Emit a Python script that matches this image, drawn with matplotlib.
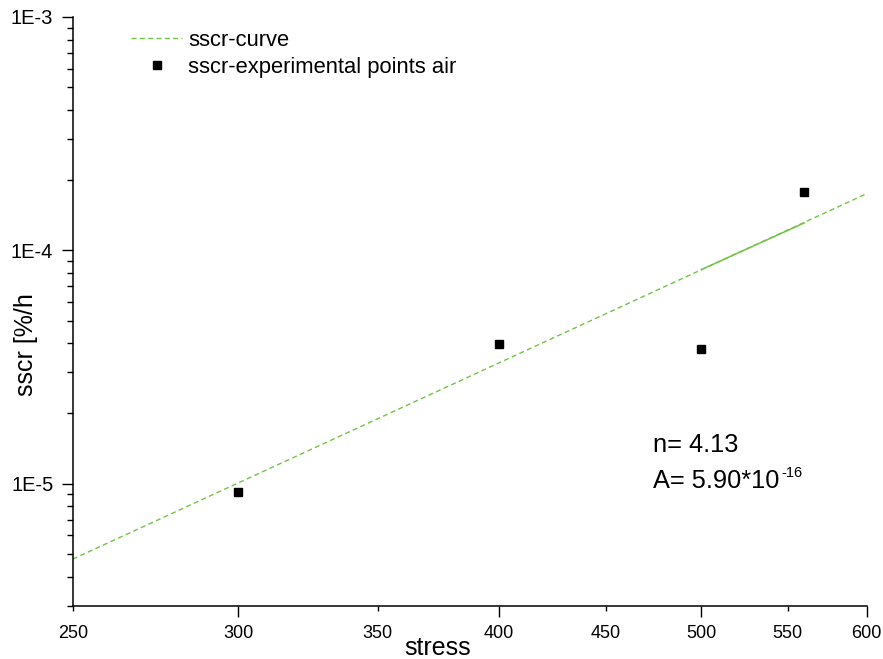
import math
import matplotlib
matplotlib.use('Agg')
import matplotlib.pyplot as plt
from matplotlib.ticker import FuncFormatter, FormatStrFormatter, LogLocator

plt.rcParams['font.family'] = ['Liberation Sans', 'DejaVu Sans']

# experimental points (stress, sscr)
stress = [300, 400, 500, 560]
sscr = [9.2e-6, 3.98e-5, 3.77e-5, 1.78e-4]

# fitted power-law curve, read at its ends
curve_x = [250, 600]
curve_y = [4.75e-6, 1.75e-4]
# solid piece of the curve between 500 and 560
fit_x = [500, 560]
fit_y = [8.27e-5, 1.31e-4]

x_major = [300, 400, 500, 600]
x_minor = [250, 350, 450, 550]

W, H = 883, 659
fig = plt.figure(figsize=(W / 100, H / 100), dpi=100)
ax = fig.add_axes([72.7 / W, 1 - 605.7 / H, 794 / W, 588.7 / H])

green = '#72c447'
ax.plot(curve_x, curve_y, color=green, lw=1.0, dashes=(3.6, 2.4), label='sscr-curve')
ax.plot(fit_x, fit_y, color=green, lw=1.1)
ax.plot(stress, sscr, ls='none', marker='s', ms=5.3, color='black',
        label='sscr-experimental points air')

ax.set_xscale('log')
ax.set_yscale('log')
ax.set_xlim(250, 600)
ax.set_ylim(3e-6, 1e-3)

ax.set_xticks(x_major)
ax.set_xticks(x_minor, minor=True)
ax.xaxis.set_major_formatter(FormatStrFormatter('%d'))
ax.xaxis.set_minor_formatter(FormatStrFormatter('%d'))

ax.yaxis.set_major_locator(LogLocator(base=10))
ax.yaxis.set_minor_locator(LogLocator(base=10, subs=range(2, 10)))
ax.yaxis.set_major_formatter(FuncFormatter(lambda v, p: '1E%d' % round(math.log10(v))))
ax.yaxis.set_minor_formatter(FuncFormatter(lambda v, p: ''))

for s in ['top', 'right']:
    ax.spines[s].set_visible(False)
for s in ['left', 'bottom']:
    ax.spines[s].set_linewidth(1.1)

ax.tick_params(axis='x', which='major', length=7.9, width=1.0, pad=5.8, labelsize=13)
ax.tick_params(axis='x', which='minor', length=3.8, width=1.0, pad=9.9, labelsize=13)
ax.tick_params(axis='y', which='major', length=7.7, width=1.0, pad=6.3, labelsize=14.5)
ax.tick_params(axis='y', which='minor', length=4.3, width=1.0)

fig.text(437.5 / W, 1 - 655 / H, 'stress', fontsize=18, ha='center', va='baseline')
fig.text(26 / W, 1 - 345 / H, 'sscr [%/h', fontsize=18, rotation=90, ha='center', va='center')

fig.text(653 / W, 1 - 452.5 / H, 'n= 4.13', fontsize=18.3, ha='left', va='baseline')
a_txt = fig.text(653 / W, 1 - 488.5 / H, 'A= 5.90*10', fontsize=18.3, ha='left', va='baseline')
fig.canvas.draw()
bb = a_txt.get_window_extent()
fig.text((bb.x1 + 1.5) / W, 1 - 477 / H, '-16', fontsize=10.5, ha='left', va='baseline')

ax.legend(loc='upper left', bbox_to_anchor=(131 / W, 1 - 29.5 / H), bbox_transform=fig.transFigure,
          frameon=False, fontsize=15.8, handlelength=2.33, handletextpad=0.28,
          borderpad=0, borderaxespad=0, labelspacing=0.30)

fig.savefig('out.png', dpi=100)
